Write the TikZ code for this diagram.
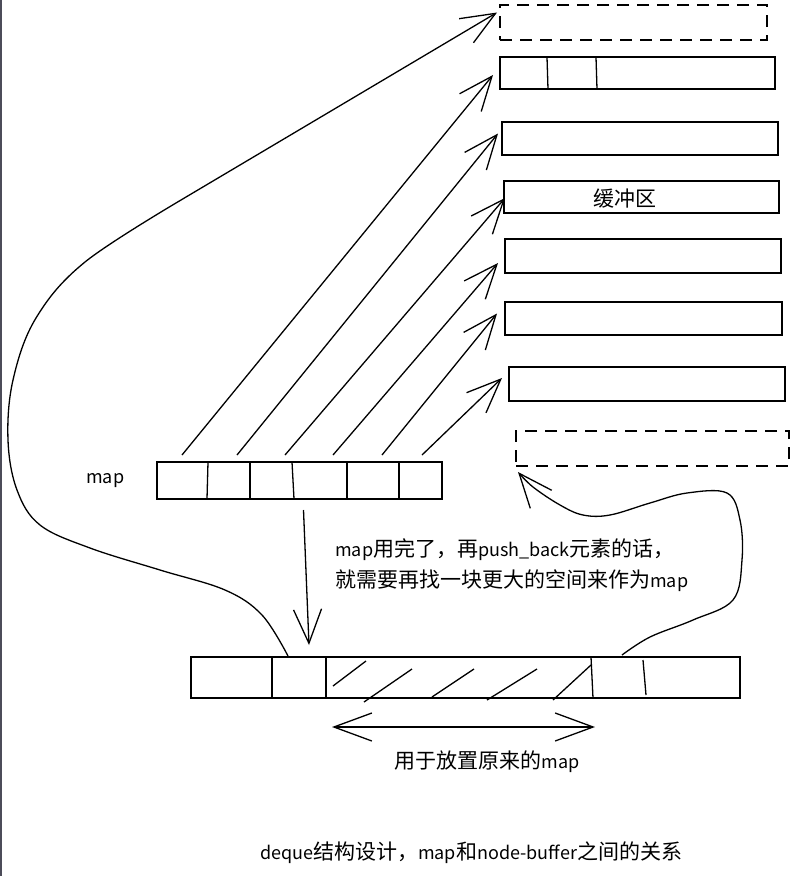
\documentclass[tikz,border=0pt]{standalone}
\usepackage{fontspec}
\setmainfont{Noto Sans CJK SC}
\usetikzlibrary{arrows.meta,calc}
\newcommand\lat[1]{{\fontsize{18}{22}\selectfont #1}}
\begin{document}
\begin{tikzpicture}[x=1pt,y=-1pt,
  box/.style={draw, line width=1.5pt, inner sep=0pt, outer sep=0pt},
  dbox/.style={box, line width=1.7pt, dash pattern=on 12pt off 8pt},
  barb/.style={-{Straight Barb[length=34pt,width=28pt]}},
  conn/.style={line width=1.3pt, barb},
  txt/.style={font=\fontsize{21}{31}\selectfont, inner sep=0pt},
  cell/.style={line width=1.3pt}
]
\fill[white] (0,0) rectangle (796,876);
\useasboundingbox (0,0) rectangle (796,876);
\fill[black!88!blue!40!gray] (0,0) rectangle (2,876);

% buffers
\node[dbox, minimum width=267pt, minimum height=35pt] (b1) at (633.5,22.5) {};
\node[box, minimum width=275pt, minimum height=32pt] (b2) at (637.5,73) {};
\node[box, minimum width=276pt, minimum height=33pt] (b3) at (640,138.5) {};
\node[box, minimum width=275pt, minimum height=32pt] (b4) at (641.5,197) {};
\node[box, minimum width=276pt, minimum height=34pt] (b5) at (643,256) {};
\node[box, minimum width=277pt, minimum height=33pt] (b6) at (643.5,318.5) {};
\node[box, minimum width=276pt, minimum height=34pt] (b7) at (647,384) {};
\node[dbox, minimum width=273pt, minimum height=35pt] (b8) at (652.5,448.5) {};
\draw[cell] (547,57) -- (548,89);
\draw[cell] (596,57) -- (597,89);
\node[txt] (t4) at (625,199) {缓冲区};

% map
\node[box, minimum width=285pt, minimum height=37pt] (map) at (299.5,480.5) {};
\draw[cell] (208,462) -- (207,499);
\draw[cell] (250,462) -- (250,499);
\draw[cell] (292,462) -- (294,499);
\draw[cell] (347,462) -- (347,499);
\draw[cell] (399,462) -- (399,499);
\node[txt, anchor=west] (maplbl) at (86,481) {\lat{map}};

% bottom map
\node[box, minimum width=549pt, minimum height=41pt] (bot) at (465.5,677.5) {};
\draw[cell] (272,657) -- (272,698);
\draw[cell] (326,657) -- (326,698);
\draw[cell] (591,657) -- (593,698);
\draw[cell] (643,660) -- (646,695);
\draw[cell] (333,686) -- (366,661);
\draw[cell] (364,702) -- (412,669);
\draw[cell] (432,697) -- (474,669);
\draw[cell] (487,700) -- (537,669);
\draw[cell] (553,700) -- (591,665);

% texts
\node[txt, anchor=west, align=left] (note) at (335,565)
  {\lat{map}用完了，再\lat{push\_back}元素的话，\\就需要再找一块更大的空间来作为\lat{map}};
\node[txt] (lbl2) at (487,762) {用于放置原来的\lat{map}};
\node[txt] (title) at (471,853) {\lat{deque}结构设计，\lat{map}和\lat{node-buffer}之间的关系};

% map -> buffers
\coordinate (s1) at (182,455);
\coordinate (s2) at (237,455);
\coordinate (s3) at (285,455);
\coordinate (s4) at (333,455);
\coordinate (s5) at (382,455);
\coordinate (s6) at (422,455);
\draw[conn] (s1) -- ($(b2.west)+(-7,2)$);
\draw[conn] (s2) -- ($(b3.west)+(-4,-5)$);
\draw[conn] (s3) -- ($(b4.west)+(1,1)$);
\draw[conn] (s4) -- ($(b5.west)+(-7,7)$);
\draw[conn] (s5) -- ($(b6.west)+(-8,-5)$);
\draw[conn] (s6) -- ($(b7.west)+(-7,-6)$);

% big curve to top dashed buffer
\coordinate (c1) at ($(bot.north west)+(97,-1)$);
\draw[conn] plot[smooth, tension=0.6] coordinates {(c1) (262,615) (225,590) (160,570) (90,548) (40,525) (17,490) (8,440) (13,380) (36,318) (85,262) (181,200)} -- ($(b1.west)+(-3,-10)$);

% right curve to bottom dashed buffer
\coordinate (c2) at ($(bot.north west)+(431,-2)$);
\draw[conn] plot[smooth, tension=0.6] coordinates {(c2) (650,637) (693,620) (733,600) (742,560) (740,520) (727,493) (687,493) (650,503) (610,515) (583,515) (560,505) (533,487) ($(b8.south west)+(2,6)$)};

% vertical arrow
\draw[conn] ($(map.south)+(4,11)$) -- ($(bot.north west)+(118,-12)$);

% double arrow
\coordinate (dl) at (332,727);
\coordinate (dr) at (595,727);
\draw[line width=1.3pt, {Straight Barb[length=38pt,width=28pt]}-{Straight Barb[length=38pt,width=28pt]}] (dl) -- (dr);
\end{tikzpicture}
\end{document}
